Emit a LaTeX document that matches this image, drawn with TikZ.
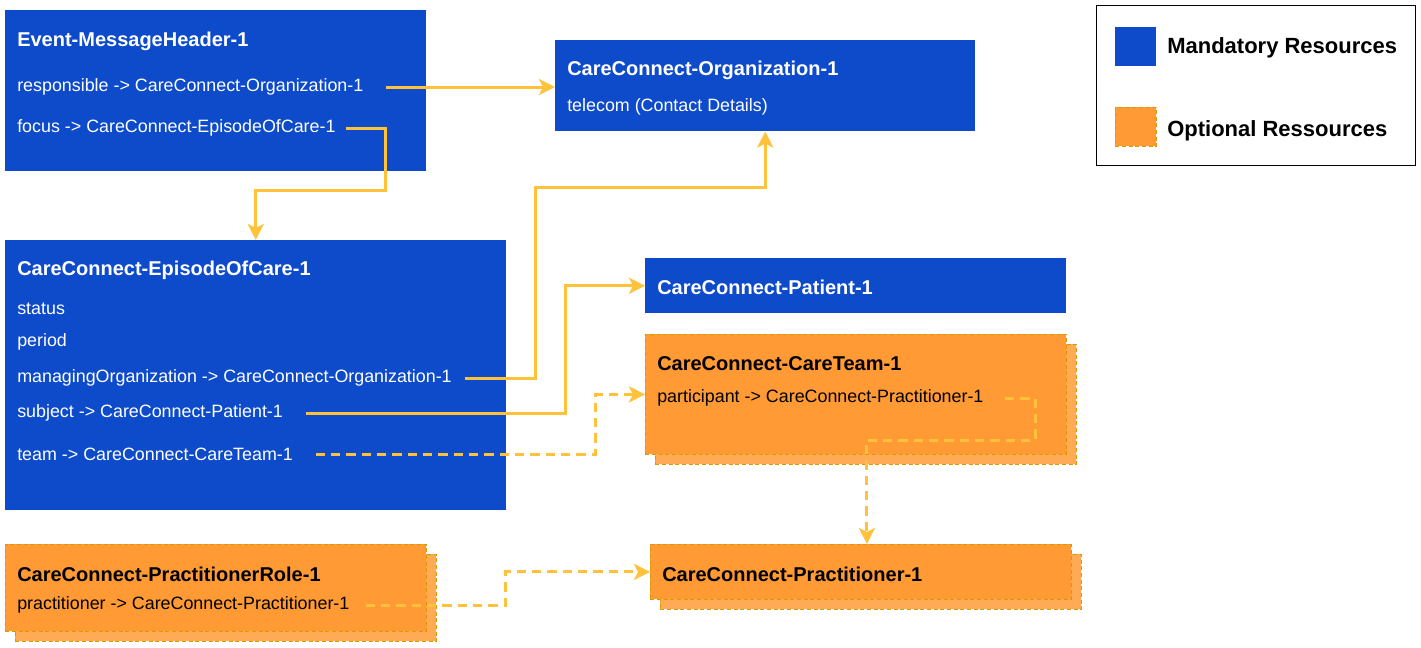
\documentclass[tikz,border=0pt]{standalone}
\usepackage{fontspec}
\setmainfont{Liberation Sans}
\usetikzlibrary{positioning,arrows.meta,shadows}

\definecolor{mandblue}{RGB}{13,75,203}
\definecolor{optorange}{RGB}{255,154,53}
\definecolor{optshade}{RGB}{255,170,85}
\definecolor{optline}{RGB}{215,155,0}
\definecolor{linkyellow}{RGB}{255,194,58}

\begin{document}
\begin{tikzpicture}[x=0.75pt,y=-0.75pt,
  % Blue boxes for mandatory resources
  mandatory/.style={rectangle, fill=mandblue, anchor=north west,
    inner sep=0pt, minimum width=315.75pt},
  % Orange boxes with a stacked copy behind for optional resources
  optional/.style={rectangle, fill=optorange, draw=optline, densely dashed,
    line width=0.6pt, anchor=north west, inner sep=0pt, minimum width=315.75pt,
    copy shadow={shadow xshift=7.5pt, shadow yshift=-7.5pt, fill=optshade,
      draw=optline, densely dashed, line width=0.6pt}},
  % Texts inside the boxes
  title/.style={anchor=west, inner sep=0pt, text=white,
    font=\bfseries\fontsize{15}{18}\selectfont},
  field/.style={anchor=west, inner sep=0pt, text=white,
    font=\fontsize{13.4}{16}\selectfont},
  legendtext/.style={anchor=west, inner sep=0pt,
    font=\bfseries\fontsize{16.5}{19}\selectfont},
  % Yellow references between resources
  link/.style={draw=linkyellow, line width=2.25pt,
    -{Stealth[length=12pt, width=12pt, inset=3pt]}},
  optlink/.style={link, dash pattern=on 7pt off 4.5pt},
]
  \useasboundingbox (0,0) rectangle (1421,647);

  % === Boxes ===
  \node[mandatory, minimum height=120.75pt] (hdr) at (5,10) {};
  \node[mandatory, minimum width=315pt, minimum height=68.25pt] (org) at (555,40) {};
  \node[mandatory, minimum width=375.75pt, minimum height=202.5pt] (ep) at (5,240) {};
  \node[mandatory, minimum height=41.25pt] (pat) at (645,258) {};
  \node[optional, minimum height=90pt] (ct) at (645,334) {};
  \node[optional, minimum height=41.25pt] (pr) at (650,544) {};
  \node[optional, minimum height=65.25pt] (role) at (5,544) {};

  % === Texts: Event-MessageHeader-1 ===
  \node[title] (hdrtitle) at (17,41) {Event-MessageHeader-1};
  \node[field] (resp) at (17,87) {responsible -> CareConnect-Organization-1};
  \node[field] (focus) at (17,128) {focus -> CareConnect-EpisodeOfCare-1};

  % === Texts: CareConnect-Organization-1 ===
  \node[title] (orgtitle) at (567,70) {CareConnect-Organization-1};
  \node[field] (telecom) at (567,107) {telecom (Contact Details)};

  % === Texts: CareConnect-EpisodeOfCare-1 ===
  \node[title] (eptitle) at (17,270) {CareConnect-EpisodeOfCare-1};
  \node[field] (status) at (17,309) {status};
  \node[field] (period) at (17,342) {period};
  \node[field] (manorg) at (17,378) {managingOrganization -> CareConnect-Organization-1};
  \node[field] (subj) at (17,413) {subject -> CareConnect-Patient-1};
  \node[field] (team) at (17,454) {team -> CareConnect-CareTeam-1};

  % === Texts: patient, care team, practitioner, role ===
  \node[title] (pattitle) at (657,287) {CareConnect-Patient-1};
  \node[title, text=black] (cttitle) at (657,364) {CareConnect-CareTeam-1};
  \node[field, text=black] (part) at (657,398) {participant -> CareConnect-Practitioner-1};
  \node[title, text=black] (prtitle) at (662,574) {CareConnect-Practitioner-1};
  \node[title, text=black] (roletitle) at (17,574) {CareConnect-PractitionerRole-1};
  \node[field, text=black] (prac) at (17,605) {practitioner -> CareConnect-Practitioner-1};

  % === Legend ===
  \node[draw=black, line width=1.1pt, anchor=north west, inner sep=0pt,
    minimum width=239.25pt, minimum height=120pt] (legend) at (1096,5) {};
  \node[rectangle, fill=mandblue, anchor=north west, inner sep=0pt,
    minimum width=30.75pt, minimum height=29.25pt] (mandkey) at (1115,27) {};
  \node[rectangle, fill=optorange, draw=optline, densely dashed, line width=0.6pt,
    anchor=north west, inner sep=0pt, minimum width=30.75pt,
    minimum height=29.25pt] (optkey) at (1115,107) {};
  \node[legendtext] (mandlabel) at (1167,48) {Mandatory Resources};
  \node[legendtext] (optlabel) at (1167,131) {Optional Ressources};

  % === Edges: mandatory references ===
  \draw[link] ([xshift=16.5pt]resp.east) -- (resp.east -| org.west);
  \draw[link] ([xshift=7.5pt]focus.east) -- ++(40,0) |- ([yshift=37.5pt]ep.north) -- (ep.north);
  \draw[link] ([xshift=10pt]manorg.east) -- ++(70,0) |- ([yshift=-42pt]org.south) -- (org.south);
  \draw[link] ([xshift=17pt]subj.east) -- ++(260,0) |- (pat.west);

  % === Edges: optional references ===
  \draw[optlink] ([xshift=17pt]team.east) -- ++(280,0) |- (ct.west);
  \draw[optlink] ([xshift=16pt]part.east) -- ++(30,0) |- ([xshift=4.5pt,yshift=78pt]pr.north)
    -- ([xshift=4.5pt]pr.north);
  \draw[optlink] ([xshift=12pt]prac.east) -- ++(140,0) |- (pr.west);
\end{tikzpicture}
\end{document}
